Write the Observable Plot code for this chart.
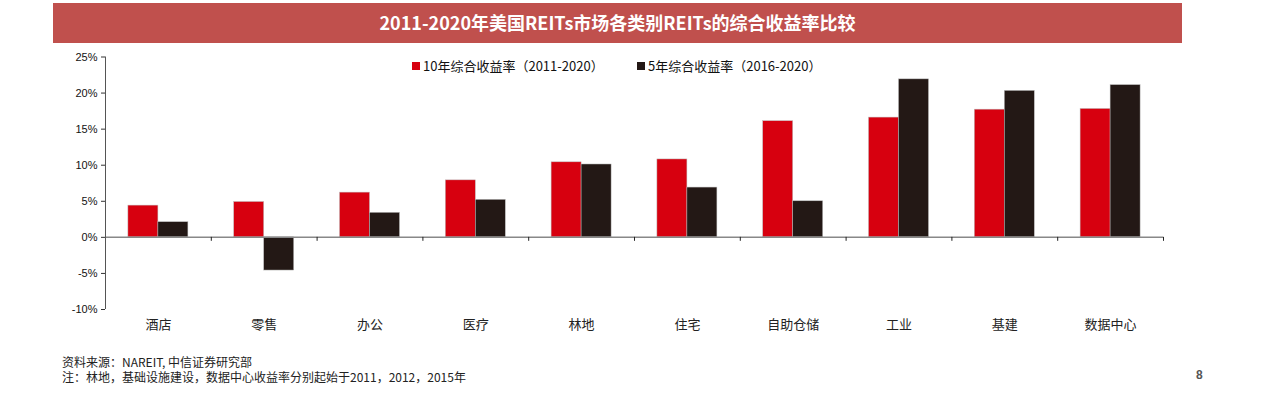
<!DOCTYPE html>
<html>
<head>
<meta charset="utf-8">
<script src="https://cdn.jsdelivr.net/npm/d3@7"></script>
<script src="https://cdn.jsdelivr.net/npm/@observablehq/plot@0.6"></script>
<style>
  html, body { margin: 0; padding: 0; background: #fff; }
  #wrap { position: relative; width: 1262px; height: 393px; overflow: hidden; font-family: "Liberation Sans", Arial, sans-serif; }
  #wrap svg { position: absolute; left: 0; top: 0; }
  .banner { position: absolute; left: 53px; top: 3px; width: 1129px; height: 40px; background: #c0504d;
    color: #fff; font: bold 18px "Noto Sans CJK SC", sans-serif; text-align: center; line-height: 38px; }
  .legend { position: absolute; top: 56px; font: 13px "Noto Sans CJK SC", sans-serif; color: #111; white-space: nowrap; }
  .legend .sw { display: inline-block; width: 8px; height: 8px; margin-right: 3px; vertical-align: 1px; }
  .note { position: absolute; left: 62px; font: 12px "Noto Sans CJK SC", sans-serif; color: #222; white-space: nowrap; }
  .page { position: absolute; left: 1196px; top: 368px; font: bold 12px "Liberation Sans", Arial, sans-serif; color: #555; }
</style>
</head>
<body>
<div id="wrap">
  <div class="banner" id="title"></div>
</div>
<script>
const title = "2011-2020年美国REITs市场各类别REITs的综合收益率比较";
const categories = ["酒店", "零售", "办公", "医疗", "林地", "住宅", "自助仓储", "工业", "基建", "数据中心"];
const seriesNames = ["10年综合收益率（2011-2020）", "5年综合收益率（2016-2020）"];
const return10y = [4.4, 4.9, 6.2, 7.9, 10.4, 10.8, 16.1, 16.6, 17.7, 17.8];
const return5y = [2.1, -4.6, 3.4, 5.2, 10.1, 6.9, 5.0, 21.9, 20.3, 21.1];
const yTicks = [-10, -5, 0, 5, 10, 15, 20, 25];
const colors = ["#d7000f", "#231815"];
const notes = ["资料来源：NAREIT, 中信证券研究部", "注：林地，基础设施建设，数据中心收益率分别起始于2011，2012，2015年"];

const groupFrac = 0.567;
const rows = [];
categories.forEach((c, i) => {
  rows.push({cat: c, series: seriesNames[0], s: 0, i, v: return10y[i]});
  rows.push({cat: c, series: seriesNames[1], s: 1, i, v: return5y[i]});
});

const wrap = document.getElementById("wrap");
document.getElementById("title").textContent = title;

const chart = Plot.plot({
  width: 1262,
  height: 393,
  marginTop: 56.5,
  marginBottom: 84,
  marginLeft: 105,
  marginRight: 99,
  style: {fontFamily: "Liberation Sans, Arial, sans-serif", fontSize: "11px", color: "#111", background: "transparent"},
  x: {type: "linear", domain: [0, categories.length]},
  y: {domain: [-10, 25]},
  marks: [
    Plot.rect(rows, {
      x1: d => d.i + 0.5 - (d.s === 0 ? groupFrac / 2 : 0),
      x2: d => d.i + 0.5 + (d.s === 1 ? groupFrac / 2 : 0),
      y1: 0,
      y2: "v",
      fill: d => colors[d.s],
      stroke: "#bbb",
      strokeWidth: 0.5
    }),
    Plot.ruleY([0], {stroke: "#888", strokeWidth: 1.5}),
    Plot.ruleX(d3.range(categories.length + 1).slice(1), {y1: 0, y2: -0.55, stroke: "#222", strokeWidth: 1}),
    Plot.ruleX([0], {y1: -10, y2: 25, stroke: "#555", strokeWidth: 1}),
    Plot.axisY({ticks: yTicks, tickFormat: d => d + "%", tickSize: 4, tickPadding: 4, fontSize: 11, stroke: "#333", label: null}),
    Plot.axisX({
      ticks: categories.map((c, i) => i + 0.5),
      tickFormat: d => categories[Math.floor(d)],
      tickSize: 0,
      tickPadding: 10,
      fontSize: 13,
      fontFamily: "Noto Sans CJK SC",
      fill: "#222",
      label: null
    })
  ]
});
wrap.insertBefore(chart, wrap.firstChild);

// legend
const legendX = [412, 637];
seriesNames.forEach((n, k) => {
  const el = document.createElement("div");
  el.className = "legend";
  el.style.left = legendX[k] + "px";
  el.innerHTML = `<span class="sw" style="background:${colors[k]}"></span>${n}`;
  wrap.appendChild(el);
});

notes.forEach((t, k) => {
  const el = document.createElement("div");
  el.className = "note";
  el.style.top = (353 + k * 15) + "px";
  el.textContent = t;
  wrap.appendChild(el);
});
const pg = document.createElement("div");
pg.className = "page";
pg.textContent = "8";
wrap.appendChild(pg);
</script>
</body>
</html>
